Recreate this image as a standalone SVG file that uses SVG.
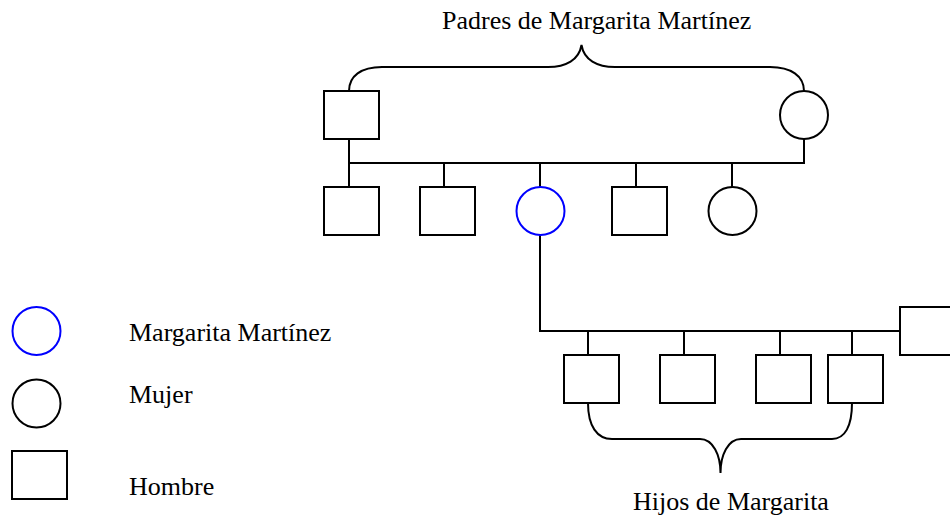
<svg xmlns="http://www.w3.org/2000/svg" width="950" height="519" viewBox="0 0 950 519">
<style>
.n{fill:#fff;stroke:#000;stroke-width:2}
.me{fill:#fff;stroke:#0000ff;stroke-width:2}
.c{fill:none;stroke:#000;stroke-width:2}
.t{font-family:"Liberation Serif","Times New Roman",serif;font-size:26px;fill:#000}
</style>
<rect width="950" height="519" fill="#fff"/>
<g id="connectors">
<path class="c" d="M349,139 V187 M349,163 H804 V139 M444,163 V187 M540,163 V187 M636,163 V187 M732,163 V187"/>
<path class="c" d="M540,235 V331 H900 M588,331 V355 M684,331 V355 M780,331 V355 M852,331 V355"/>
<path class="c" d="M349,91 C349,76 361,67 382,67 L548,67 C566,67 579,60 581.5,45 C584,60 597,67 615,67 L770,67 C791,67 804,76 804,91"/>
<path class="c" d="M588,403 C588,426 597,439 612,439 L700,439 C713,439 720.5,455 720.5,473 C720.5,455 728,439 741,439 L832,439 C845,439 852,426 852,403"/>
</g>
<g id="label-padres"><text class="t" x="442" y="29">Padres de Margarita Martínez</text></g>
<g id="padre"><rect class="n" x="324" y="91" width="55" height="48"/></g>
<g id="madre"><ellipse class="n" cx="804" cy="115" rx="24" ry="24"/></g>
<g id="hermano1"><rect class="n" x="324" y="187" width="55" height="48"/></g>
<g id="hermano2"><rect class="n" x="420" y="187" width="55" height="48"/></g>
<g id="margarita"><ellipse class="me" cx="540.5" cy="211" rx="24" ry="24"/></g>
<g id="hermano3"><rect class="n" x="612" y="187" width="55" height="48"/></g>
<g id="hermana"><ellipse class="n" cx="732.5" cy="211" rx="24" ry="24"/></g>
<g id="esposo"><rect class="n" x="900" y="307" width="60" height="48"/></g>
<g id="hijo1"><rect class="n" x="564" y="355" width="55" height="48"/></g>
<g id="hijo2"><rect class="n" x="660" y="355" width="55" height="48"/></g>
<g id="hijo3"><rect class="n" x="756" y="355" width="55" height="48"/></g>
<g id="hijo4"><rect class="n" x="828" y="355" width="55" height="48"/></g>
<g id="label-hijos"><text class="t" x="633" y="510">Hijos de Margarita</text></g>
<g id="legend-margarita"><ellipse class="me" cx="36.5" cy="331" rx="24" ry="24"/><text class="t" x="129" y="341">Margarita Martínez</text></g>
<g id="legend-mujer"><ellipse class="n" cx="36.5" cy="403.5" rx="24" ry="24"/><text class="t" x="129" y="403">Mujer</text></g>
<g id="legend-hombre"><rect class="n" x="12" y="451" width="55" height="48"/><text class="t" x="129" y="495">Hombre</text></g>
</svg>
